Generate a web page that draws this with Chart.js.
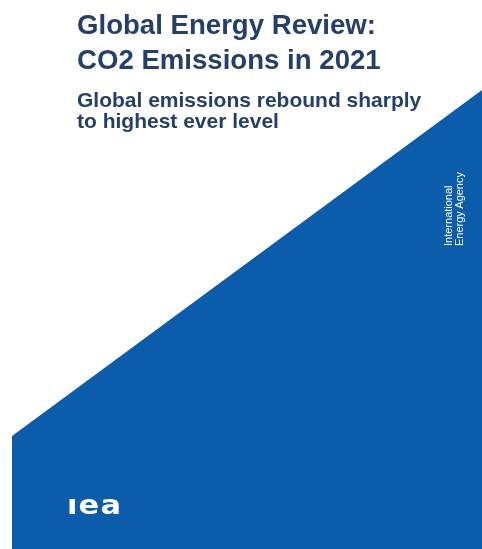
<!DOCTYPE html>
<html>
<head>
<meta charset="utf-8">
<script src="https://cdn.jsdelivr.net/npm/chart.js@4"></script>
<style>
  html, body { margin: 0; padding: 0; background: #fff; }
  #wrap { position: relative; width: 482px; height: 549px; overflow: hidden; font-family: "Liberation Sans", Arial, sans-serif; }
  #wrap canvas { position: absolute; left: 0; top: 0; }
  .t { position: absolute; color: #243f6b; font-weight: bold; white-space: nowrap; }
  #title { left: 77px; top: 7px; font-size: 27.6px; line-height: 35px; }
  #sub { left: 77px; top: 89px; font-size: 21px; line-height: 21px; }
  #agency { position: absolute; left: 443px; top: 246px; color: #fff; font-size: 11px; line-height: 10.5px;
            transform-origin: 0 0; transform: rotate(-90deg); white-space: nowrap; }
  #logo { position: absolute; left: 67px; top: 491px; color: #fff; font-weight: bold; font-size: 27px; line-height: 27px;
          font-family: "DejaVu Sans", sans-serif; letter-spacing: 1px; transform-origin: 0 0; transform: scaleX(1.13); }
</style>
</head>
<body>
<div id="wrap">
  <canvas id="cover"></canvas>
  <div class="t" id="title">Global Energy Review:<br>CO2 Emissions in 2021</div>
  <div class="t" id="sub">Global emissions rebound sharply<br>to highest ever level</div>
  <div id="agency">International<br>Energy Agency</div>
  <div id="logo">ıea</div>
</div>
<script>
// blue band edge: left and right ends, height from bottom in % of page
const edgeX = [0, 100];
const edgeY = [20.6, 83.6];

new Chart(document.getElementById("cover"), {
    type: "line",
    data: {
        datasets: [{
            label: "cover",
            data: edgeX.map((x, i) => ({ x: x, y: edgeY[i] })),
            fill: "origin",
            backgroundColor: "#0b5cab",
            borderColor: "#0b5cab",
            borderWidth: 0,
            pointRadius: 0,
            tension: 0
        }]
    },
    options: {
        responsive: true,
        maintainAspectRatio: false,
        animation: false,
        layout: { padding: { left: 12, right: 0, top: 0, bottom: 0 } },
        plugins: { legend: { display: false }, tooltip: { enabled: false } },
        scales: {
            x: { type: "linear", min: 0, max: 100, display: false },
            y: { min: 0, max: 100, display: false }
        }
    }
});
</script>
</body>
</html>
